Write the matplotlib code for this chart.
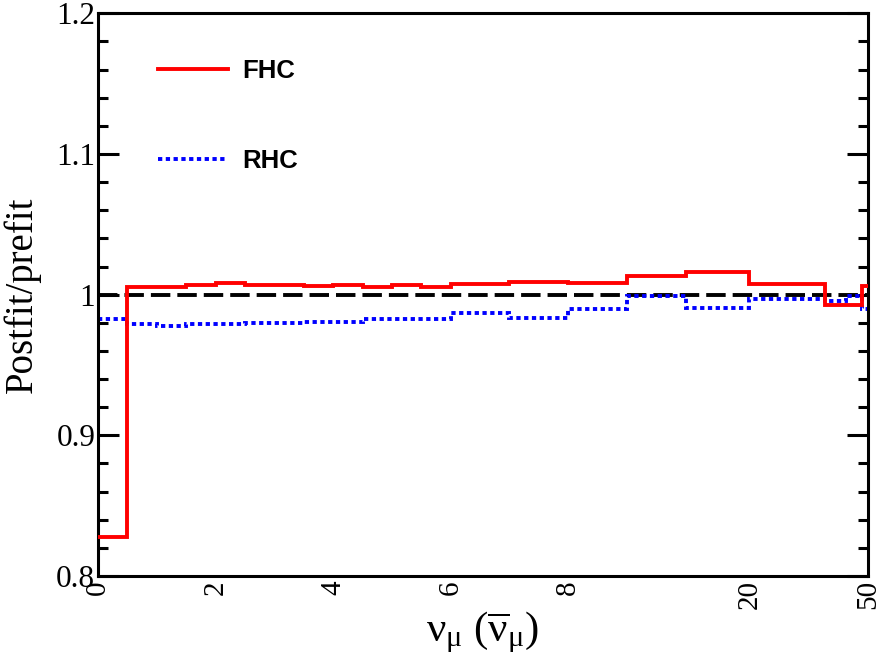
import numpy as np
import matplotlib
matplotlib.use("Agg")
import matplotlib.pyplot as plt
from matplotlib.lines import Line2D

plt.rcParams['font.family'] = ['Liberation Serif', 'DejaVu Serif']
# Upright greek in the axis label, like the original.
plt.rcParams['mathtext.fontset'] = 'custom'
plt.rcParams['mathtext.rm'] = 'Liberation Serif'
plt.rcParams['mathtext.it'] = 'Liberation Serif'
plt.rcParams['mathtext.bf'] = 'Liberation Serif:bold'

# Bin edges (neutrino energy) and postfit/prefit ratios.
edges = [0, 0.5, 1, 1.5, 2, 2.5, 3, 3.5, 4, 4.5, 5, 5.5, 6, 7, 8, 9, 10, 20, 39, 44.5, 48.5, 50]
fhc = [0.828, 1.0055, 1.0055, 1.007, 1.008, 1.0072, 1.0072, 1.0062, 1.0072, 1.0055, 1.0067,
       1.0055, 1.0077, 1.0091, 1.0084, 1.0136, 1.016, 1.0073, 0.9926, 0.9926, 1.006]
rhc = [0.983, 0.979, 0.978, 0.979, 0.979, 0.9796, 0.9796, 0.9803, 0.9803, 0.9826, 0.9826,
       0.9826, 0.9867, 0.9836, 0.9897, 0.9992, 0.9906, 0.9966, 0.9955, 0.999, 0.990]
xtick_vals = [0, 2, 4, 6, 8, 20, 50]
ytick_vals = [0.8, 0.9, 1.0, 1.1, 1.2]
ytick_labels = ['0.8', '0.9', '1', '1.1', '1.2']

# Piecewise axis: linear up to 10, then compressed.
knots_e = [0, 10, 20, 50]
knots_u = [0, 10, 11.08, 13.1]

def forward(e):
    return np.interp(e, knots_e, knots_u)

def inverse(u):
    return np.interp(u, knots_u, knots_e)


fig = plt.figure(figsize=(8.96, 6.72), dpi=100)
ax = fig.add_axes([0.1094, 0.1429, 0.8594, 0.8373])
ax.set_xscale('function', functions=(forward, inverse))

# Reference line at 1.
ax.axhline(1.0, color='black', lw=2.8, linestyle=(0, (5.0, 1.8)), zorder=1)

# Histograms.
dot = (0, (1.1, 0.9))
ax.stairs(fhc, edges, baseline=None, color='#ff0000', lw=2.8, zorder=3)
ax.stairs(rhc, edges, baseline=None, color='#0000ff', lw=2.8, linestyle=dot, zorder=2)

ax.set_xlim(0, 50)
ax.set_ylim(0.8, 1.2)

ax.set_xticks(xtick_vals)
ax.set_xticklabels([str(v) for v in xtick_vals], rotation=90, fontsize=21)
ax.tick_params(axis='x', which='both', length=0, pad=3)
ax.xaxis.set_minor_locator(matplotlib.ticker.NullLocator())

ax.set_yticks(ytick_vals)
ax.set_yticklabels(ytick_labels, fontsize=22.5)
ax.set_yticks(np.arange(0.8, 1.2001, 0.02), minor=True)
ax.tick_params(axis='y', which='major', direction='in', length=15, width=2.2,
               left=True, right=True, pad=2)
ax.tick_params(axis='y', which='minor', direction='in', length=7.5, width=2.2,
               left=True, right=True)

for sp in ax.spines.values():
    sp.set_linewidth(2.2)

ax.set_ylabel('Postfit/prefit', fontsize=28, labelpad=11)
ax.set_xlabel(r'$\nu_{\mu}\ (\overline{\nu}_{\mu})$', fontsize=31, labelpad=0)

# Legend.
handles = [
    Line2D([], [], color='#ff0000', lw=2.8),
    Line2D([], [], color='#0000ff', lw=2.8, linestyle=dot),
]
leg = ax.legend(handles, ['FHC', 'RHC'], loc='upper left', bbox_to_anchor=(0.078, 0.918),
                frameon=False, borderpad=0, borderaxespad=0, handlelength=2.72,
                handletextpad=0.54, labelspacing=2.55,
                prop={'family': 'Liberation Sans', 'weight': 'bold', 'size': 18.5})

fig.savefig('out.png', dpi=100)
